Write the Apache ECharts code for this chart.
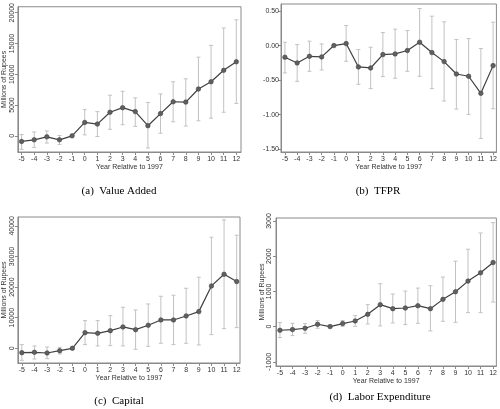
<!DOCTYPE html>
<html><head><meta charset="utf-8">
<script src="https://cdn.jsdelivr.net/npm/echarts@6/dist/echarts.min.js"></script>
<style>html,body{margin:0;padding:0;background:#fff}#c{width:500px;height:409px}</style>
</head><body><div id="c"></div>
<script>
const years = [-5,-4,-3,-2,-1,0,1,2,3,4,5,6,7,8,9,10,11,12];

const vaPoint = [-905,-639,-160,-639,0,2183,1917,3834,4580,3940,1651,3621,5538,5485,7615,8786,10650,12035];
const vaHigh  = [213,639,799,53,null,4260,3940,6603,7242,6177,5432,6816,8786,9266,12780,14697,17519,18851];
const vaLow   = [-2183,-1864,-1172,-1385,null,160,-106,1065,1810,1544,-1970,426,2290,1597,2450,2876,3834,5272];
const vaTicks = [0,5000,10000,15000,20000];

const tfPoint = [-0.169,-0.251,-0.155,-0.164,0,0.029,-0.309,-0.324,-0.130,-0.121,-0.072,0.048,-0.101,-0.232,-0.411,-0.444,-0.691,-0.290];
const tfHigh  = [0.048,0.014,0.063,0.024,null,0.290,-0.058,-0.024,0.188,0.237,0.217,0.536,0.425,0.343,0.087,0.101,-0.043,0.338];
const tfLow   = [-0.396,-0.517,-0.372,-0.353,null,-0.227,-0.560,-0.623,-0.449,-0.473,-0.372,-0.444,-0.623,-0.802,-0.918,-0.995,-1.343,-0.913];
const tfTicks = [-1.5,-1.0,-0.5,0,0.5];

const kPoint = [-1417,-1308,-1526,-763,0,5123,4905,5777,6975,6104,7520,9264,9264,10572,11989,20381,24196,21798];
const kHigh  = [1199,763,436,327,null,9046,9046,10681,13406,12534,14496,17003,17330,19619,23215,36294,41962,36948];
const kLow   = [-3924,-3488,-3379,-1853,null,1199,763,872,763,-327,654,1635,1199,1635,1090,4469,6431,6757];
const kTicks = [0,10000,20000,30000,40000];

const lPoint = [-104,-85,-47,66,0,85,160,349,623,509,528,594,509,774,991,1292,1528,1821];
const lHigh  = [113,94,85,170,null,170,311,623,1217,925,1009,1094,1160,1406,1858,2198,2660,2953];
const lLow   = [-311,-255,-189,-47,null,9,9,75,19,104,57,94,-123,151,123,396,396,698];
const lTicks = [-1000,0,1000,2000,3000];

const captions = ['(a)  Value Added','(b)  TFPR','(c)  Capital','(d)  Labor Expenditure'];
const xTitle = 'Year Relative to 1997';
const yTitle = 'Millions of Rupees';

const panels = [
  {pt:vaPoint,hi:vaHigh,lo:vaLow,ticks:vaTicks,grid:{left:17,top:4,width:224,height:148},xr:[-5.29,12.37],yr:[-2620,20970],yname:yTitle,rot:true,nameGap:9,labMargin:2,xGap:10,cap:[119,191]},
  {pt:tfPoint,hi:tfHigh,lo:tfLow,ticks:tfTicks,grid:{left:281,top:4,width:218,height:148},xr:[-5.32,12.27],yr:[-1.539,0.601],yname:'',rot:false,nameGap:0,labMargin:2,xGap:10,cap:[378,191]},
  {pt:kPoint,hi:kHigh,lo:kLow,ticks:kTicks,grid:{left:17,top:217,width:223,height:146},xr:[-5.31,12.26],yr:[-4800,42900],yname:yTitle,rot:true,nameGap:9,labMargin:2,xGap:10,cap:[119,401.5]},
  {pt:lPoint,hi:lHigh,lo:lLow,ticks:lTicks,grid:{left:276,top:218,width:223,height:148},xr:[-5.315,12.26],yr:[-1119,3085],yname:yTitle,rot:true,nameGap:10,labMargin:3,xGap:10,cap:[380,397.5]}
];

const txt = '#333';
const frame = '#8a8a8a';
const option = {animation:false, backgroundColor:'#fff', grid:[], xAxis:[], yAxis:[], series:[], graphic:[]};

panels.forEach((p,i)=>{
  option.grid.push(Object.assign({show:true,borderColor:frame,borderWidth:1,containLabel:false}, p.grid));
  option.xAxis.push({
    type:'value', gridIndex:i, min:p.xr[0], max:p.xr[1],
    name:xTitle, nameLocation:'middle', nameGap:p.xGap,
    nameTextStyle:{color:txt,fontSize:7,fontFamily:'Liberation Sans'},
    axisLine:{show:true,onZero:false,lineStyle:{color:frame,width:1}},
    axisTick:{show:true,length:3,lineStyle:{color:frame},customValues:years},
    axisLabel:{color:txt,fontSize:7,fontFamily:'Liberation Sans',margin:4,customValues:years,formatter:v=>String(v)},
    splitLine:{show:false}
  });
  option.yAxis.push({
    type:'value', gridIndex:i, min:p.yr[0], max:p.yr[1],
    name:p.yname, nameLocation:'middle', nameGap:p.nameGap, nameRotate:90,
    nameTextStyle:{color:txt,fontSize:7,fontFamily:'Liberation Sans'},
    axisLine:{show:true,onZero:false,lineStyle:{color:frame,width:1}},
    axisTick:{show:true,length:3,lineStyle:{color:frame},customValues:p.ticks},
    axisLabel:{color:txt,fontSize:7,fontFamily:'Liberation Sans',margin:p.labMargin,rotate:p.rot?90:0,customValues:p.ticks,
      formatter:p.rot?(v=>String(v)):(v=>v.toFixed(2))},
    splitLine:{show:false}
  });
  const ci = years.map((y,k)=>[y,p.lo[k],p.hi[k]]).filter(d=>d[1]!==null);
  option.series.push({
    type:'custom', xAxisIndex:i, yAxisIndex:i, data:ci, z:1,
    renderItem:function(params,api){
      const a = api.coord([api.value(0),api.value(1)]);
      const b = api.coord([api.value(0),api.value(2)]);
      const st = {stroke:'#c2c2c2',lineWidth:1};
      const w = 2;
      return {type:'group',children:[
        {type:'line',shape:{x1:a[0],y1:a[1],x2:b[0],y2:b[1]},style:st},
        {type:'line',shape:{x1:a[0]-w,y1:a[1],x2:a[0]+w,y2:a[1]},style:st},
        {type:'line',shape:{x1:b[0]-w,y1:b[1],x2:b[0]+w,y2:b[1]},style:st}
      ]};
    }
  });
  option.series.push({
    type:'line', xAxisIndex:i, yAxisIndex:i, z:3,
    data:years.map((y,k)=>[y,p.pt[k]]),
    symbol:'circle', symbolSize:4.5,
    lineStyle:{color:'#404040',width:1.2},
    itemStyle:{color:'#606060',borderColor:'#404040',borderWidth:0.6}
  });
  option.graphic.push({type:'text',x:p.cap[0],y:p.cap[1],style:{text:captions[i],fill:'#000',font:'11px "Liberation Serif"',textAlign:'center',textVerticalAlign:'middle'}});
});

echarts.init(document.getElementById('c'),null,{renderer:'canvas'}).setOption(option);
</script></body></html>
